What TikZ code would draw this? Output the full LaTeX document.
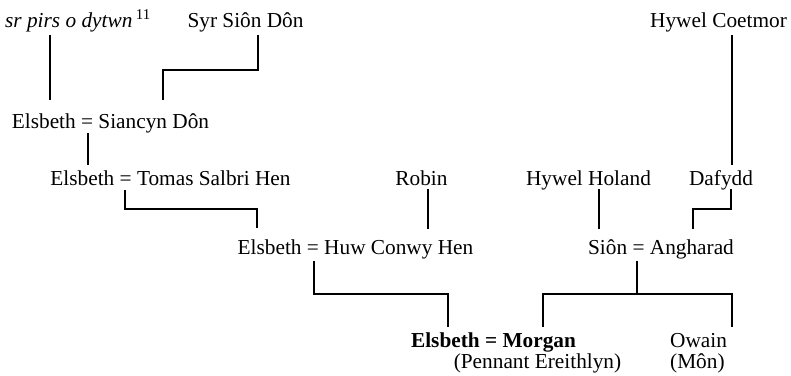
\documentclass[tikz,border=0pt]{standalone}
\usepackage{fontspec}
\setmainfont{Liberation Serif}
\begin{document}
\begin{tikzpicture}[x=1pt,y=-1pt,
  person/.style={inner sep=0pt, anchor=base, font=\fontsize{21.3}{25}\selectfont},
  personw/.style={person, anchor=base west},
  link/.style={line width=1.9pt, line cap=butt, line join=miter}]
\useasboundingbox (0,0) rectangle (791,375);

% generation 1
\node[person] (pirs)    at (78,27)    {\textit{sr pirs o dytwn}\,\textsuperscript{11}};
\node[person] (sionDon) at (245.5,27) {Syr Siôn Dôn};
\node[person] (coetmor) at (718.5,27) {Hywel Coetmor};

% generation 2
\node[person] (siancyn) at (110.5,128) {Elsbeth = Siancyn Dôn};

% generation 3
\node[person] (tomas)  at (170.5,185) {Elsbeth = Tomas Salbri Hen};
\node[person] (robin)  at (421.5,185) {Robin};
\node[person] (holand) at (588.5,185) {Hywel Holand};
\node[person] (dafydd) at (721,185)   {Dafydd};

% generation 4
\node[person] (huw)  at (355.5,254) {Elsbeth = Huw Conwy Hen};
\node[person] (sion) at (661,254)   {Siôn = Angharad};

% generation 5
\node[person]  (morgan)  at (493.5,347) {\textbf{Elsbeth = Morgan}};
\node[person]  (pennant) at (537.5,368) {(Pennant Ereithlyn)};
\node[personw] (owain)   at (670,347)   {Owain};
\node[personw] (mon)     at (670,368)   {(Môn)};

% attachment points of the descent lines
\coordinate (pirsD)    at (50,35);
\coordinate (siancynU1) at (50,100);
\coordinate (sionDonD) at (258,35);
\coordinate (siancynU2) at (163,100);
\coordinate (siancynD) at (88,133);
\coordinate (tomasU)   at (88,165);
\coordinate (tomasD)   at (125,190);
\coordinate (huwU1)    at (257,228);
\coordinate (robinD)   at (428,189);
\coordinate (huwU2)    at (428,229);
\coordinate (huwD)     at (314,261);
\coordinate (morganU)  at (448,327);
\coordinate (holandD)  at (599,189);
\coordinate (sionU1)   at (599,229);
\coordinate (dafyddD)  at (731,189);
\coordinate (sionU2)   at (693,229);
\coordinate (coetmorD) at (732,35);
\coordinate (dafyddU)  at (732,165);
\coordinate (sionD)    at (637,261);
\coordinate (sionBar)  at (637,294);
\coordinate (morganU2) at (543,327);
\coordinate (owainU)   at (732,327);

% descent lines
\draw[link] (pirsD) -- (siancynU1);
\draw[link] (sionDonD) -- ++(0,35) -| (siancynU2);
\draw[link] (siancynD) -- (tomasU);
\draw[link] (tomasD) -- ++(0,19) -| (huwU1);
\draw[link] (robinD) -- (huwU2);
\draw[link] (huwD) -- ++(0,33) -| (morganU);
\draw[link] (holandD) -- (sionU1);
\draw[link] (dafyddD) -- ++(0,20) -| (sionU2);
\draw[link] (coetmorD) -- (dafyddU);
\draw[link] (sionD) -- (sionBar);
\draw[link] (morganU2) |- (sionBar) -| (owainU);
\end{tikzpicture}
\end{document}
